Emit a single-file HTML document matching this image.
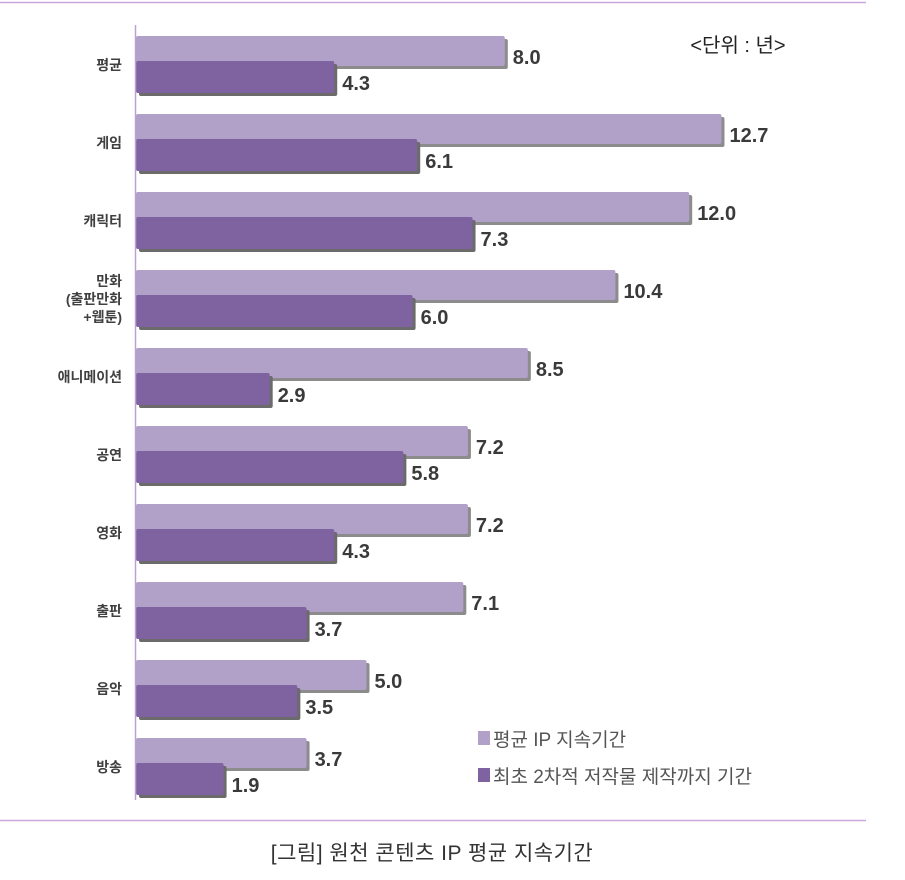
<!DOCTYPE html>
<html><head><meta charset="utf-8"><style>
body{margin:0;background:#fff;width:905px;height:875px;overflow:hidden;font-family:"Liberation Sans","Noto Sans CJK KR",sans-serif;}
svg text{font-family:"Liberation Sans","Noto Sans CJK KR",sans-serif;}
</style></head><body>
<svg id="c" width="905" height="875">
<line x1="0" y1="2.5" x2="866" y2="2.5" stroke="#c9a6dc" stroke-width="1.5"/>
<line x1="0" y1="820.5" x2="866" y2="820.5" stroke="#c9a6dc" stroke-width="1.5"/>
<text x="432" y="860" text-anchor="middle" font-size="21" letter-spacing="0.5" fill="#333">[그림] 원천 콘텐츠 IP 평균 지속기간</text>
<text x="738" y="52" text-anchor="middle" font-size="20" fill="#222">&lt;단위 : 년&gt;</text>
<g id="bars"></g>
<line x1="135.5" y1="25" x2="135.5" y2="800" stroke="#b9a3d6" stroke-width="1.5"/>
<rect x="478" y="731" width="12" height="14" fill="#b1a0c8"/>
<text x="493" y="746" font-size="19" fill="#555">평균 IP 지속기간</text>
<rect x="478" y="768" width="12" height="14" fill="#7f63a0"/>
<text x="493" y="783" font-size="19" fill="#555">최초 2차적 저작물 제작까지 기간</text>
</svg>
<script>
const categories=[["평균"],["게임"],["캐릭터"],["만화","(출판만화","+웹툰)"],["애니메이션"],["공연"],["영화"],["출판"],["음악"],["방송"]];
const avgValues=[8.0,12.7,12.0,10.4,8.5,7.2,7.2,7.1,5.0,3.7];
const firstValues=[4.3,6.1,7.3,6.0,2.9,5.8,4.3,3.7,3.5,1.9];
const NS="http://www.w3.org/2000/svg";
const barGroup=document.getElementById("bars");
const x0=136, scale=46.1, topY=36, step=78.0;
const xs=v=>x0+v*scale;
function mk(t,a){const e=document.createElementNS(NS,t);for(const k in a)e.setAttribute(k,a[k]);barGroup.appendChild(e);return e;}
categories.forEach((lab,i)=>{
  const y=topY+i*step;
  const cy=y+29;
  const n=lab.length;
  lab.forEach((s,j)=>{
    const t=mk("text",{x:122,y:cy+5+(j-(n-1)/2)*18,"text-anchor":"end","font-size":"14","font-weight":"bold",fill:"#404040"});
    t.textContent=s;
    
    
  });
  const wa=xs(avgValues[i])-x0;
  const sh1=mk("rect",{x:x0+3,y:y+3,width:wa,height:30,rx:2,fill:"#8c8c8c"});
  
  
  const b1=mk("rect",{x:x0,y:y,width:wa,height:30,rx:2,fill:"#b1a0c8"});
  
  
  const wf=xs(firstValues[i])-x0;
  const sh2=mk("rect",{x:x0+3,y:y+28,width:wf,height:32,rx:2,fill:"#6b6b6b"});
  
  
  const b2=mk("rect",{x:x0,y:y+25,width:wf,height:32,rx:2,fill:"#7f63a0"});
  
  
  const t1=mk("text",{x:xs(avgValues[i])+8,y:y+28,"font-size":"20","font-weight":"bold",fill:"#3a3a3a"});
  t1.textContent=avgValues[i].toFixed(1);
  
  
  const t2=mk("text",{x:xs(firstValues[i])+8,y:y+54,"font-size":"20","font-weight":"bold",fill:"#3a3a3a"});
  t2.textContent=firstValues[i].toFixed(1);
  
  
});
</script>
</body></html>
